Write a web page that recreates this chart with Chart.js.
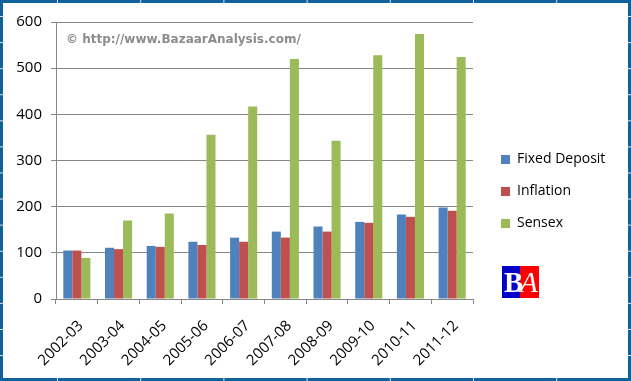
<!DOCTYPE html>
<html>
<head>
<meta charset="utf-8">
<script src="https://cdn.jsdelivr.net/npm/chart.js@4.4.1/dist/chart.umd.min.js"></script>
<style>
    html, body { margin: 0; padding: 0; background: #10629c; }
    #contenedor { position: relative; width: 631px; height: 381px; }
</style>
</head>
<body>
<div id="contenedor"><canvas id="barChart"></canvas></div>
<script>
// datos
const years = ['2002-03', '2003-04', '2004-05', '2005-06', '2006-07', '2007-08', '2008-09', '2009-10', '2010-11', '2011-12']
const fixed_deposit = [105, 111, 115, 124, 133, 146, 157, 167, 183, 198]
const inflation = [105, 108, 113, 117, 124, 133, 146, 165, 178, 191]
const sensex = [89, 170, 185, 356, 417, 520, 343, 528, 574, 524]
const y_ticks = [0, 100, 200, 300, 400, 500, 600]

const watermark = '\u00A9 http://www.BazaarAnalysis.com/'
const gris = '#868686'

// fondo azul con las lineas de celdas y el recuadro blanco
const marco = {
    id: 'marco',
    beforeDraw(chart) {
        const ctx = chart.ctx
        const w = chart.width
        const h = chart.height
        ctx.save()
        ctx.fillStyle = '#10629c'
        ctx.fillRect(0, 0, w, h)
        ctx.strokeStyle = '#d9e3ee'
        ctx.lineWidth = 1
        ctx.beginPath()
        for (let x = 57.5; x < w; x += 83.2) { ctx.moveTo(x, 0); ctx.lineTo(x, h) }
        for (let y = 16.5; y < h; y += 26.08) { ctx.moveTo(0, y); ctx.lineTo(w, y) }
        ctx.stroke()
        ctx.fillStyle = '#ffffff'
        ctx.fillRect(3, 3, 625, 375)
        ctx.restore()
    },
    afterDraw(chart) {
        const ctx = chart.ctx
        ctx.save()
        // marca de agua
        ctx.fillStyle = '#8c8c8c'
        ctx.font = 'bold 12px "DejaVu Sans"'
        ctx.textBaseline = 'middle'
        ctx.fillText(watermark, 66, 40)
        // logo BA
        ctx.fillStyle = '#0000c8'
        ctx.fillRect(502, 266, 18, 32)
        ctx.fillStyle = '#ff0000'
        ctx.fillRect(520, 266, 19, 32)
        ctx.fillStyle = '#ffffff'
        ctx.textBaseline = 'alphabetic'
        ctx.font = 'bold 29px "Liberation Serif"'
        ctx.fillText('B', 504, 292)
        ctx.font = 'italic 29px "Liberation Serif"'
        ctx.fillText('A', 520, 292)
        ctx.restore()
    }
}

// la leyenda va mas separada del area del grafico y un poco mas arriba
const mover_leyenda = {
    id: 'mover_leyenda',
    beforeInit(chart) {
        if (!chart.legend) return
        const fit_original = chart.legend.fit
        chart.legend.fit = function () {
            fit_original.call(this)
            this.width = 155
        }
    },
    afterLayout(chart) {
        if (!chart.legend) return
        chart.legend.left += 10
        chart.legend.top -= 8
        chart.legend.bottom -= 8
    }
}

Chart.defaults.font.family = '"Open Sans"'
Chart.defaults.color = '#000'

const ctx = document.getElementById('barChart').getContext('2d')
const chartInstance = new Chart(ctx, {
    type: 'bar',
    data: {
        labels: years,
        datasets: [
            { label: 'Fixed Deposit', data: fixed_deposit, backgroundColor: '#4f81bd' },
            { label: 'Inflation', data: inflation, backgroundColor: '#c0504d' },
            { label: 'Sensex', data: sensex, backgroundColor: '#9bbb59' }
        ]
    },
    options: {
        responsive: true,
        maintainAspectRatio: false,
        animation: false,
        events: [],
        layout: { padding: { left: 4, top: 22, right: 3, bottom: 4 } },
        datasets: {
            bar: { categoryPercentage: 0.65, barPercentage: 1.0 }
        },
        plugins: {
            legend: {
                position: 'right',
                labels: {
                    boxWidth: 9,
                    boxHeight: 9,
                    padding: 18,
                    color: '#000',
                    font: { size: 14 }
                }
            },
            tooltip: { enabled: false }
        },
        scales: {
            x: {
                afterFit(scale) { scale.height = 78 },
                grid: {
                    drawOnChartArea: false,
                    drawTicks: true,
                    tickLength: 5,
                    color: gris
                },
                border: { display: true, color: gris },
                ticks: {
                    autoSkip: false,
                    minRotation: 45,
                    maxRotation: 45,
                    padding: 13,
                    labelOffset: 4,
                    color: '#000',
                    font: { size: 15 }
                }
            },
            y: {
                min: 0,
                max: 600,
                afterFit(scale) { scale.width = 52 },
                afterBuildTicks(scale) { scale.ticks = y_ticks.map(v => ({ value: v })) },
                grid: { color: gris, tickLength: 5 },
                border: { display: true, color: gris },
                ticks: {
                    padding: 9,
                    color: '#000',
                    font: { size: 15 }
                }
            }
        }
    },
    plugins: [marco, mover_leyenda]
})
</script>
</body>
</html>
